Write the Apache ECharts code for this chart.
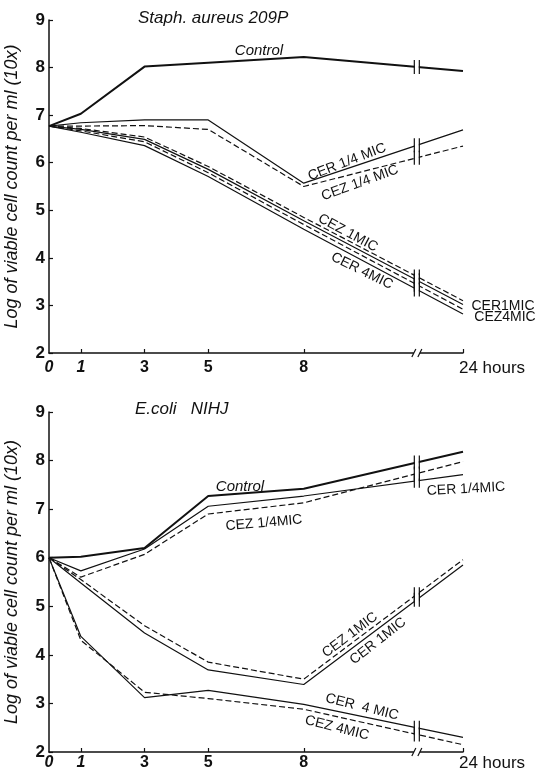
<!DOCTYPE html>
<html>
<head>
<meta charset="utf-8">
<script src="https://cdn.jsdelivr.net/npm/echarts@6/dist/echarts.min.js"></script>
<style>
html,body{margin:0;padding:0;background:#fff;}
#chart{width:542px;height:768px;}
</style>
</head>
<body>
<div id="chart"></div>
<script>
// sampling times (hours); 24 h sits behind an axis break
var hours = [0, 1, 3, 5, 8, 24];
var xLabelHours = [0, 1, 3, 5, 8, 24];
var xTickHours = [1, 3, 5, 8, 24];
var yTicks = [2, 3, 4, 5, 6, 7, 8, 9];

// Staph. aureus 209P
var staphControl = [6.77, 7.03, 8.02, 8.10, 8.22, 7.93];
var staphCER14   = [6.77, 6.84, 6.90, 6.90, 5.57, 6.69];
var staphCEZ14   = [6.77, 6.77, 6.78, 6.70, 5.50, 6.35];
var staphCEZ1    = [6.77, 6.72, 6.54, 5.92, 4.85, 3.10];
var staphCER1    = [6.77, 6.70, 6.49, 5.86, 4.78, 3.02];
var staphCEZ4    = [6.77, 6.67, 6.44, 5.79, 4.70, 2.92];
var staphCER4    = [6.77, 6.64, 6.36, 5.71, 4.60, 2.82];

// E.coli NIHJ
var ecoliControl = [6.00, 6.02, 6.20, 7.27, 7.42, 8.18];
var ecoliCER14   = [6.00, 5.73, 6.18, 7.06, 7.27, 7.71];
var ecoliCEZ14   = [6.00, 5.60, 6.07, 6.90, 7.13, 7.98];
var ecoliCEZ1    = [6.00, 5.55, 4.60, 3.85, 3.50, 5.96];
var ecoliCER1    = [6.00, 5.48, 4.45, 3.69, 3.39, 5.85];
var ecoliCER4    = [6.00, 4.38, 3.12, 3.27, 2.98, 2.30];
var ecoliCEZ4    = [6.00, 4.30, 3.23, 3.10, 2.88, 2.15];

// broken time axis: 0-8 h linear, 8-24 h squeezed
function brokenX(h) { return h > 8 ? 8 + (h - 8) * 5 / 16 : h; }
var BREAK_X = 11.55;
var INK = '#111';
var FONT = 'Liberation Sans';

function pts(vals) {
    return vals.map(function (v, i) { return [brokenX(hours[i]), v]; });
}
function atBreak(vals) {
    var n = vals.length;
    var x0 = brokenX(hours[n - 2]), x1 = brokenX(hours[n - 1]);
    return vals[n - 2] + (vals[n - 1] - vals[n - 2]) * (BREAK_X - x0) / (x1 - x0);
}

var chart = echarts.init(document.getElementById('chart'));

function lineSeries(idx, name, vals, dashed, bold) {
    return {
        name: name, type: 'line', xAxisIndex: idx, yAxisIndex: idx,
        data: pts(vals), symbol: 'none', silent: true,
        lineStyle: { color: INK, width: bold ? 2 : 1.2, type: dashed ? [6, 3] : 'solid' },
        z: 2
    };
}

function breakSeries(idx, lists) {
    var d = lists.map(function (v) { return [BREAK_X, atBreak(v), 0]; });
    d.push([BREAK_X, 2, 1]);
    return {
        type: 'custom', xAxisIndex: idx, yAxisIndex: idx, data: d, z: 5, clip: false, silent: true,
        renderItem: function (params, api) {
            var p = api.coord([api.value(0), api.value(1)]);
            if (api.value(2) === 1) {
                return { type: 'group', children: [
                    { type: 'rect', shape: { x: p[0] - 3, y: p[1] - 2, width: 6, height: 4 }, style: { fill: '#fff' } },
                    { type: 'line', shape: { x1: p[0] - 5, y1: p[1] + 4, x2: p[0] - 1, y2: p[1] - 4 }, style: { stroke: INK, lineWidth: 1.2 } },
                    { type: 'line', shape: { x1: p[0] + 1, y1: p[1] + 4, x2: p[0] + 5, y2: p[1] - 4 }, style: { stroke: INK, lineWidth: 1.2 } }
                ] };
            }
            return { type: 'group', children: [
                { type: 'rect', shape: { x: p[0] - 2, y: p[1] - 5, width: 4, height: 10 }, style: { fill: '#fff' } },
                { type: 'line', shape: { x1: p[0] - 2.5, y1: p[1] - 7, x2: p[0] - 2.5, y2: p[1] + 7 }, style: { stroke: INK, lineWidth: 1.2 } },
                { type: 'line', shape: { x1: p[0] + 2.5, y1: p[1] - 7, x2: p[0] + 2.5, y2: p[1] + 7 }, style: { stroke: INK, lineWidth: 1.2 } }
            ] };
        }
    };
}

function xAxisFor(idx, margin) {
    return {
        type: 'value', gridIndex: idx, min: 0, max: brokenX(24), interval: 1,
        axisLine: { lineStyle: { color: INK, width: 1.5 } },
        axisTick: { inside: true, length: 4, customValues: xTickHours.map(brokenX), lineStyle: { color: INK, width: 1.2 } },
        axisLabel: {
            customValues: xLabelHours.map(brokenX), margin: margin,
            color: INK, fontSize: 16, fontWeight: 'bold', fontFamily: FONT,
            formatter: function (v) {
                if (v === brokenX(24)) return '{h|24 hours}';
                if (v <= 1) return '{i|' + v + '}';
                return String(v);
            },
            rich: {
                h: { fontSize: 17, fontWeight: 'normal', fontFamily: FONT, color: INK, padding: [0, 0, 0, 58] },
                i: { fontSize: 16, fontStyle: 'italic', fontFamily: FONT, color: INK }
            }
        },
        splitLine: { show: false }
    };
}

function yAxisFor(idx) {
    return {
        type: 'value', gridIndex: idx, min: yTicks[0], max: yTicks[yTicks.length - 1], interval: 1,
        name: 'Log of viable cell count per ml (10x)', nameLocation: 'middle', nameGap: 28, nameRotate: 90,
        nameTextStyle: { fontStyle: 'italic', fontSize: 18, color: INK, fontFamily: FONT },
        axisLine: { show: true, lineStyle: { color: INK, width: 1.5 } },
        axisTick: { inside: true, length: 4, lineStyle: { color: INK, width: 1.2 } },
        axisLabel: { margin: 4, color: INK, fontSize: 17, fontWeight: 'bold', fontFamily: FONT },
        splitLine: { show: false }
    };
}

function note(text, x, y, deg, italic, size) {
    return {
        type: 'text', x: x, y: y, rotation: deg * Math.PI / 180, silent: true,
        style: { text: text, fill: INK, font: (italic ? 'italic ' : '') + (size || 13) + 'px "' + FONT + '"', align: 'center', verticalAlign: 'middle' }
    };
}

var option = {
    backgroundColor: '#fff',
    animation: false,
    title: [
        { text: 'Staph. aureus 209P', left: 133, top: 5, textStyle: { fontStyle: 'italic', fontWeight: 'normal', fontSize: 17, color: INK, fontFamily: FONT } },
        { text: 'E.coli   NIHJ', left: 130, top: 396, textStyle: { fontStyle: 'italic', fontWeight: 'normal', fontSize: 17, color: INK, fontFamily: FONT } }
    ],
    grid: [
        { left: 49, right: 79, top: 20, height: 333, containLabel: false, outerBoundsMode: 'none' },
        { left: 49, right: 79, top: 412, height: 340, containLabel: false, outerBoundsMode: 'none' }
    ],
    xAxis: [xAxisFor(0, 7), xAxisFor(1, 3)],
    yAxis: [yAxisFor(0), yAxisFor(1)],
    series: [
        lineSeries(0, 'Control', staphControl, false, true),
        lineSeries(0, 'CER 1/4 MIC', staphCER14, false),
        lineSeries(0, 'CEZ 1/4 MIC', staphCEZ14, true),
        lineSeries(0, 'CEZ 1 MIC', staphCEZ1, true),
        lineSeries(0, 'CER 1 MIC', staphCER1, false),
        lineSeries(0, 'CEZ 4 MIC', staphCEZ4, true),
        lineSeries(0, 'CER 4 MIC', staphCER4, false),
        breakSeries(0, [staphControl, staphCER14, staphCEZ14, staphCEZ1, staphCER1, staphCEZ4, staphCER4]),
        lineSeries(1, 'Control', ecoliControl, false, true),
        lineSeries(1, 'CER 1/4 MIC', ecoliCER14, false),
        lineSeries(1, 'CEZ 1/4 MIC', ecoliCEZ14, true),
        lineSeries(1, 'CEZ 1 MIC', ecoliCEZ1, true),
        lineSeries(1, 'CER 1 MIC', ecoliCER1, false),
        lineSeries(1, 'CER 4 MIC', ecoliCER4, false),
        lineSeries(1, 'CEZ 4 MIC', ecoliCEZ4, true),
        breakSeries(1, [ecoliControl, ecoliCER14, ecoliCEZ14, ecoliCEZ1, ecoliCER1, ecoliCER4, ecoliCEZ4])
    ],
    graphic: [
        note('Control', 259, 51, 0, true, 15),
        note('CER 1/4 MIC', 347, 162, 21, false, 14),
        note('CEZ 1/4 MIC', 360, 183, 20, false, 14),
        note('CEZ 1MIC', 348, 233, -28, false, 14),
        note('CER 4MIC', 362, 271, -26, false, 14),
        note('CER1MIC', 503, 306, 0, false, 14),
        note('CEZ4MIC', 505, 317, 0, false, 14),
        note('Control', 240, 487, 0, true, 15),
        note('CEZ 1/4MIC', 264, 523, 5, false, 14),
        note('CER 1/4MIC', 466, 489, 3, false, 14),
        note('CEZ 1MIC', 350, 635, 37, false, 14),
        note('CER 1MIC', 378, 641, 38, false, 14),
        note('CER  4 MIC', 362, 707, -14, false, 14),
        note('CEZ 4MIC', 337, 728, -14, false, 14)
    ]
};
chart.setOption(option);
</script>
</body>
</html>
